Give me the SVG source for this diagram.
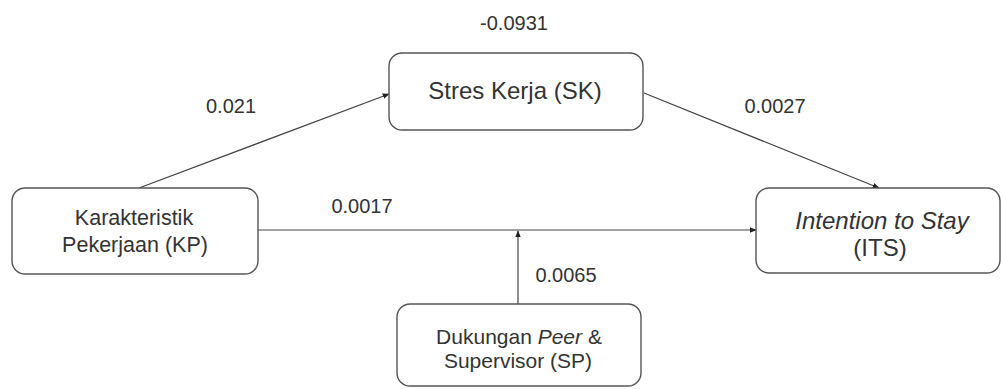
<svg xmlns="http://www.w3.org/2000/svg" width="1001" height="389" viewBox="0 0 1001 389">
<style>
.box{fill:#fff;stroke:#555;stroke-width:1.4}
.t{font-family:"Liberation Sans",Arial,sans-serif;font-size:21px;fill:#333;text-anchor:middle}
.n{font-family:"Liberation Sans",Arial,sans-serif;font-size:20px;fill:#333;text-anchor:middle}
.c{stroke:#444;stroke-width:1.2;fill:none;marker-end:url(#ah)}
</style>
<defs>
<marker id="ah" viewBox="0 0 10 10" refX="9" refY="5" markerWidth="7" markerHeight="7" markerUnits="userSpaceOnUse" orient="auto">
<path d="M0,1 L10,5 L0,9 z" fill="#222"/>
</marker>
</defs>
<rect width="1001" height="389" fill="#fff"/>
<g id="connectors">
<line class="c" x1="139" y1="188" x2="389" y2="94"/>
<line class="c" x1="644" y1="93" x2="879" y2="188"/>
<line class="c" x1="258" y1="230" x2="756" y2="230"/>
<line class="c" x1="518" y1="304" x2="518" y2="231"/>
</g>
<g id="labels">
<text class="n" x="514" y="30">-0.0931</text>
<text class="n" x="231" y="113">0.021</text>
<text class="n" x="775" y="113">0.0027</text>
<text class="n" x="362" y="213">0.0017</text>
<text class="n" x="566" y="282">0.0065</text>
</g>
<g id="KP">
<rect class="box" x="12" y="188" width="246" height="86" rx="13"/>
<text class="t" x="134" y="225" style="font-size:21.5px">Karakteristik</text>
<text class="t" x="135" y="252" style="font-size:21.5px">Pekerjaan (KP)</text>
</g>
<g id="SK">
<rect class="box" x="389" y="53" width="254" height="77" rx="13"/>
<text class="t" x="515" y="99" style="font-size:24px">Stres Kerja (SK)</text>
</g>
<g id="ITS">
<rect class="box" x="756" y="188" width="244" height="85" rx="13"/>
<text class="t" x="882" y="229" font-style="italic" style="font-size:24px">Intention to Stay</text>
<text class="t" x="880" y="256" style="font-size:24px">(ITS)</text>
</g>
<g id="SP">
<rect class="box" x="397" y="304" width="244" height="82" rx="13"/>
<text class="t" x="519" y="344">Dukungan <tspan font-style="italic">Peer</tspan> &amp;</text>
<text class="t" x="518" y="368">Supervisor (SP)</text>
</g>
</svg>
